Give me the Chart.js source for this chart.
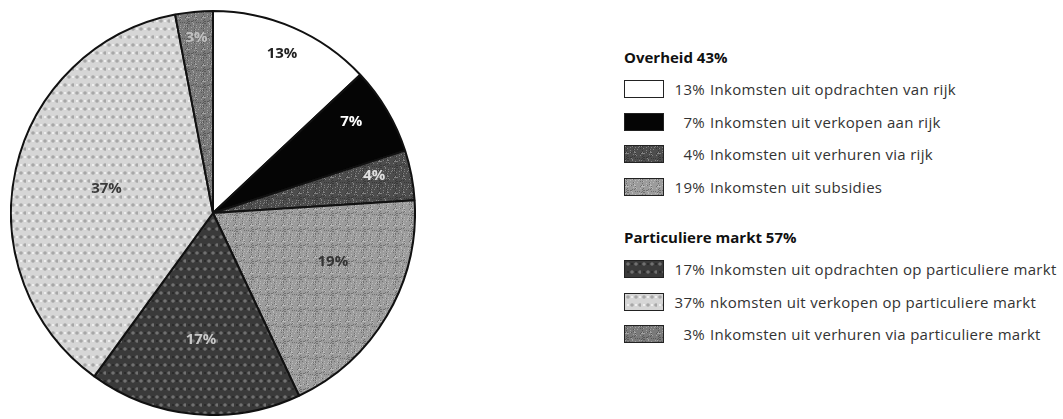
<!DOCTYPE html>
<html>
<head>
<meta charset="utf-8">
<script src="https://cdn.jsdelivr.net/npm/chart.js@4.4.1/dist/chart.umd.min.js"></script>
<style>
    html, body { margin: 0; padding: 0; background: #fff; width: 1063px; height: 419px; overflow: hidden; }
    #pie-wrap { position: absolute; left: 10px; top: 10px; width: 406px; height: 406px; }
    #legend { position: absolute; left: 624px; top: 41px; font-family: "Open Sans", sans-serif; font-size: 15px; letter-spacing: 0.3px; color: #333; }
    .group-title { height: 32px; line-height: 32px; font-weight: bold; color: #111; font-size: 15px; letter-spacing: 0; }
    .group + .group { margin-top: 18px; }
    .row { height: 32.5px; display: flex; align-items: center; }
    .swatch { width: 38px; height: 16px; border: 1.5px solid #222; margin-right: 9px; box-sizing: content-box; background-size: 16px 16px; }
    .pct { display: inline-block; width: 32px; text-align: right; margin-right: 5px; white-space: nowrap; }
</style>
</head>
<body>
<div id="pie-wrap"><canvas id="pie-chart"></canvas></div>
<div id="legend"></div>

<script>
// Inkomsten verdeling
const sliceLabels = [
    'Inkomsten uit opdrachten van rijk',
    'Inkomsten uit verkopen aan rijk',
    'Inkomsten uit verhuren via rijk',
    'Inkomsten uit subsidies',
    'Inkomsten uit opdrachten op particuliere markt',
    'nkomsten uit verkopen op particuliere markt',
    'Inkomsten uit verhuren via particuliere markt'
];
const sliceValues = [13, 7, 4, 19, 17, 37, 3];
const groupNames = ['Overheid', 'Particuliere markt'];
const groupIndex = [0, 0, 0, 0, 1, 1, 1];

// Build a small textured tile (greyscale print look)
function makeTile(kind) {
    const c = document.createElement('canvas');
    c.width = 16; c.height = 16;
    const g = c.getContext('2d');
    const bases = { white: '#ffffff', black: '#050505', darkSpeck: '#4d4d4d', midSpeck: '#9c9c9c',
                    darkDots: '#3a3a3a', lightDots: '#d6d6d6', greySpeck: '#7a7a7a' };
    g.fillStyle = bases[kind];
    g.fillRect(0, 0, 16, 16);
    if (kind === 'darkSpeck' || kind === 'midSpeck' || kind === 'greySpeck') {
        // deterministic speckle (hashed, so no visible stripes)
        for (let y = 0; y < 16; y++) {
            for (let x = 0; x < 16; x++) {
                const h = (((x * 73856093) ^ (y * 19349663) ^ (x * y * 83492791)) >>> 0) % 7;
                if (h === 0) { g.fillStyle = 'rgba(255,255,255,0.3)'; g.fillRect(x, y, 1, 1); }
                else if (h === 3) { g.fillStyle = 'rgba(0,0,0,0.28)'; g.fillRect(x, y, 1, 1); }
            }
        }
    } else if (kind === 'darkDots' || kind === 'lightDots') {
        g.fillStyle = kind === 'darkDots' ? 'rgba(150,150,150,0.6)' : 'rgba(130,130,130,0.55)';
        [[3, 3], [11, 3], [7, 11], [15, 11]].forEach(function(p) {
            g.beginPath(); g.arc(p[0] % 16, p[1], 1.8, 0, Math.PI * 2); g.fill();
        });
        g.fillStyle = kind === 'darkDots' ? 'rgba(0,0,0,0.25)' : 'rgba(255,255,255,0.6)';
        [[7, 3], [15, 3], [3, 11], [11, 11]].forEach(function(p) {
            g.fillRect(p[0] - 1, p[1] - 1, 2, 2);
        });
    }
    return c;
}

const tileKinds = ['white', 'black', 'darkSpeck', 'midSpeck', 'darkDots', 'lightDots', 'greySpeck'];
const tiles = tileKinds.map(makeTile);
const labelColors = ['#222', '#fff', '#e0e0e0', '#333', '#c8c8c8', '#3a3a3a', '#c0c0c0'];
const labelRadius = [0.86, 0.82, 0.82, 0.64, 0.63, 0.54, 0.87];
const labelTurn = [0, -0.05, -0.04, -0.15, 0, 0, 0];

// Percent labels inside slices
const sliceLabelPlugin = {
    id: 'sliceLabels',
    afterDatasetsDraw(chart) {
        const ctx = chart.ctx;
        const meta = chart.getDatasetMeta(0);
        ctx.save();
        ctx.font = 'bold 15px "Open Sans", sans-serif';
        ctx.textAlign = 'center';
        ctx.textBaseline = 'middle';
        meta.data.forEach(function(arc, i) {
            const p = arc.getProps(['x', 'y', 'startAngle', 'endAngle', 'outerRadius'], true);
            const mid = (p.startAngle + p.endAngle) / 2 + labelTurn[i];
            const r = p.outerRadius * labelRadius[i];
            ctx.fillStyle = labelColors[i];
            ctx.fillText(sliceValues[i] + '%', p.x + Math.cos(mid) * r, p.y + Math.sin(mid) * r);
        });
        ctx.restore();
    }
};

function initPieChart() {
    const ctx = document.getElementById('pie-chart');
    const patterns = tiles.map(function(t) { return ctx.getContext('2d').createPattern(t, 'repeat'); });

    new Chart(ctx, {
        type: 'pie',
        data: {
            labels: sliceLabels,
            datasets: [{
                data: sliceValues,
                backgroundColor: patterns,
                borderColor: '#111',
                borderWidth: 2
            }]
        },
        options: {
            responsive: true,
            maintainAspectRatio: false,
            animation: false,
            layout: { padding: 0 },
            plugins: {
                legend: { display: false },
                tooltip: { enabled: false }
            }
        },
        plugins: [sliceLabelPlugin]
    });
}

// HTML legend grouped by Overheid / Particuliere markt
function buildLegend() {
    const legend = document.getElementById('legend');
    groupNames.forEach(function(name, gi) {
        const group = document.createElement('div');
        group.className = 'group';
        let total = 0;
        sliceValues.forEach(function(v, i) { if (groupIndex[i] === gi) total += v; });
        const title = document.createElement('div');
        title.className = 'group-title';
        title.textContent = name + ' ' + total + '%';
        group.appendChild(title);
        sliceLabels.forEach(function(label, i) {
            if (groupIndex[i] !== gi) return;
            const row = document.createElement('div');
            row.className = 'row';
            const sw = document.createElement('span');
            sw.className = 'swatch';
            sw.style.backgroundImage = 'url(' + tiles[i].toDataURL() + ')';
            const pct = document.createElement('span');
            pct.className = 'pct';
            pct.textContent = sliceValues[i] + '%';
            const txt = document.createElement('span');
            txt.textContent = label;
            row.appendChild(sw);
            row.appendChild(pct);
            row.appendChild(txt);
            group.appendChild(row);
        });
        legend.appendChild(group);
    });
}

buildLegend();
initPieChart();
</script>
</body>
</html>
